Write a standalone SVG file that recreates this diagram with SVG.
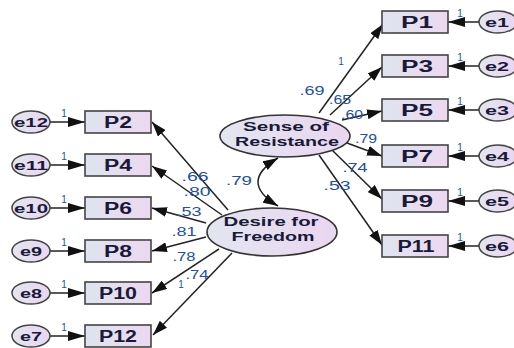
<svg xmlns="http://www.w3.org/2000/svg" width="514" height="348" viewBox="0 0 514 348">
<defs>
<linearGradient id="gb" x1="0" y1="0" x2="1" y2="0">
<stop offset="0" stop-color="#dfe4ef"/>
<stop offset="1" stop-color="#ecd8f0"/>
</linearGradient>
<linearGradient id="ge" x1="0" y1="0" x2="1" y2="0">
<stop offset="0" stop-color="#e2e6f0"/>
<stop offset="1" stop-color="#ead6f0"/>
</linearGradient>
<marker id="ah" markerUnits="userSpaceOnUse" markerWidth="16" markerHeight="10" refX="15" refY="5" orient="auto-start-reverse">
<path d="M0,0 L15,5 L0,10 z" fill="#111"/>
</marker>
<marker id="ae" markerUnits="userSpaceOnUse" markerWidth="18" markerHeight="10" refX="17" refY="5" orient="auto">
<path d="M0,0 L17,5 L0,10 z" fill="#111"/>
</marker>
</defs>
<style>
.box{fill:url(#gb);stroke:#444;stroke-width:1.6}
.err{fill:url(#ge);stroke:#444;stroke-width:1.5}
.lat{fill:url(#ge);stroke:#333;stroke-width:1.6}
.bl{font-family:"Liberation Sans",Arial,sans-serif;font-weight:bold;font-size:16px;fill:#1a1a38;text-anchor:middle}
.el{font-family:"Liberation Sans",Arial,sans-serif;font-weight:bold;font-size:13px;fill:#1a1a38;text-anchor:middle}
.ll{font-family:"Liberation Sans",Arial,sans-serif;font-weight:bold;font-size:13px;fill:#1a1a38;text-anchor:middle}
.num{font-family:"Liberation Sans",Arial,sans-serif;font-size:13px;fill:#23509e;text-anchor:middle}
.one{font-family:"Liberation Sans",Arial,sans-serif;font-size:10px;fill:#23509e;text-anchor:middle}
.c{stroke:#222;stroke-width:1.5;fill:none}
.ce{stroke:#222;stroke-width:1.5;fill:none;marker-end:url(#ae)}
.cp{stroke:#222;stroke-width:1.5;fill:none;marker-end:url(#ah)}
</style>
<g id="connectors">
<line class="cp" x1="319" y1="113" x2="383" y2="24"/>
<line class="cp" x1="330" y1="115" x2="382" y2="67"/>
<line class="cp" x1="342" y1="120" x2="382" y2="111"/>
<line class="cp" x1="347" y1="143" x2="382" y2="156"/>
<line class="cp" x1="332" y1="150" x2="382" y2="199"/>
<line class="cp" x1="319" y1="155" x2="382" y2="245"/>
<line class="cp" x1="228" y1="210" x2="152" y2="122"/>
<line class="cp" x1="222" y1="215" x2="152" y2="166"/>
<line class="cp" x1="206" y1="223" x2="152" y2="208"/>
<line class="cp" x1="206" y1="237" x2="152" y2="251"/>
<line class="cp" x1="219" y1="249" x2="152" y2="293"/>
<line class="cp" x1="232" y1="253" x2="153" y2="335"/>
<path class="c" d="M278,158 Q238,182 278,206" marker-start="url(#ah)" marker-end="url(#ah)"/>
<line class="ce" x1="50" y1="122" x2="85" y2="122"/>
<line class="ce" x1="50" y1="165" x2="85" y2="165"/>
<line class="ce" x1="50" y1="208" x2="85" y2="208"/>
<line class="ce" x1="50" y1="251" x2="85" y2="251"/>
<line class="ce" x1="50" y1="293" x2="85" y2="293"/>
<line class="ce" x1="50" y1="336" x2="85" y2="336"/>
<line class="ce" x1="479" y1="22" x2="448" y2="22"/>
<line class="ce" x1="479" y1="66" x2="448" y2="66"/>
<line class="ce" x1="479" y1="110" x2="448" y2="110"/>
<line class="ce" x1="479" y1="156" x2="448" y2="156"/>
<line class="ce" x1="479" y1="201" x2="448" y2="201"/>
<line class="ce" x1="479" y1="246" x2="448" y2="246"/>
<text class="num" x="312" y="95" textLength="25" lengthAdjust="spacingAndGlyphs">.69</text>
<text class="one" x="341" y="65">1</text>
<text class="num" x="340" y="104" textLength="22" lengthAdjust="spacingAndGlyphs">.65</text>
<text class="num" x="352" y="119" textLength="22" lengthAdjust="spacingAndGlyphs">.60</text>
<text class="num" x="366" y="143" textLength="22" lengthAdjust="spacingAndGlyphs">.79</text>
<text class="num" x="355" y="172" textLength="25" lengthAdjust="spacingAndGlyphs">.74</text>
<text class="num" x="337" y="190" textLength="27" lengthAdjust="spacingAndGlyphs">.53</text>
<text class="num" x="195" y="181" textLength="27" lengthAdjust="spacingAndGlyphs">.66</text>
<text class="num" x="197" y="196" textLength="27" lengthAdjust="spacingAndGlyphs">.80</text>
<text class="num" x="189" y="216" textLength="25" lengthAdjust="spacingAndGlyphs">.53</text>
<text class="num" x="184" y="236" textLength="25" lengthAdjust="spacingAndGlyphs">.81</text>
<text class="num" x="184" y="261" textLength="23" lengthAdjust="spacingAndGlyphs">.78</text>
<text class="num" x="197" y="279" textLength="23" lengthAdjust="spacingAndGlyphs">.74</text>
<text class="one" x="181" y="288">1</text>
<text class="num" x="239" y="185" textLength="26" lengthAdjust="spacingAndGlyphs">.79</text>
<text class="one" x="64" y="117">1</text>
<text class="one" x="64" y="160">1</text>
<text class="one" x="64" y="203">1</text>
<text class="one" x="64" y="246">1</text>
<text class="one" x="64" y="288">1</text>
<text class="one" x="64" y="331">1</text>
<text class="one" x="460" y="17">1</text>
<text class="one" x="460" y="61">1</text>
<text class="one" x="460" y="105">1</text>
<text class="one" x="460" y="151">1</text>
<text class="one" x="460" y="196">1</text>
<text class="one" x="460" y="241">1</text>
</g>
<g id="SenseOfResistance">
<ellipse class="lat" cx="285" cy="136" rx="65" ry="21"/>
<text class="ll" x="286" y="131" textLength="86" lengthAdjust="spacingAndGlyphs">Sense of</text>
<text class="ll" x="287" y="146" textLength="104" lengthAdjust="spacingAndGlyphs">Resistance</text>
</g>
<g id="DesireForFreedom">
<ellipse class="lat" cx="272" cy="232" rx="65" ry="24"/>
<text class="ll" x="271" y="226" textLength="95" lengthAdjust="spacingAndGlyphs">Desire for</text>
<text class="ll" x="273" y="241" textLength="83" lengthAdjust="spacingAndGlyphs">Freedom</text>
</g>
<g id="P2"><rect class="box" x="85" y="111" width="66" height="22"/><text class="bl" x="118" y="128" textLength="28" lengthAdjust="spacingAndGlyphs">P2</text></g>
<g id="P4"><rect class="box" x="85" y="154" width="66" height="22"/><text class="bl" x="118" y="171" textLength="28" lengthAdjust="spacingAndGlyphs">P4</text></g>
<g id="P6"><rect class="box" x="85" y="197" width="66" height="22"/><text class="bl" x="118" y="214" textLength="28" lengthAdjust="spacingAndGlyphs">P6</text></g>
<g id="P8"><rect class="box" x="85" y="240" width="66" height="22"/><text class="bl" x="118" y="257" textLength="28" lengthAdjust="spacingAndGlyphs">P8</text></g>
<g id="P10"><rect class="box" x="85" y="282" width="66" height="22"/><text class="bl" x="118" y="299" textLength="38" lengthAdjust="spacingAndGlyphs">P10</text></g>
<g id="P12"><rect class="box" x="85" y="325" width="66" height="22"/><text class="bl" x="118" y="342" textLength="38" lengthAdjust="spacingAndGlyphs">P12</text></g>
<g id="P1"><rect class="box" x="382" y="11" width="66" height="22"/><text class="bl" x="417" y="28" textLength="32" lengthAdjust="spacingAndGlyphs">P1</text></g>
<g id="P3"><rect class="box" x="382" y="55" width="66" height="22"/><text class="bl" x="417" y="72" textLength="32" lengthAdjust="spacingAndGlyphs">P3</text></g>
<g id="P5"><rect class="box" x="382" y="99" width="66" height="22"/><text class="bl" x="417" y="116" textLength="32" lengthAdjust="spacingAndGlyphs">P5</text></g>
<g id="P7"><rect class="box" x="382" y="145" width="66" height="22"/><text class="bl" x="417" y="162" textLength="32" lengthAdjust="spacingAndGlyphs">P7</text></g>
<g id="P9"><rect class="box" x="382" y="190" width="66" height="22"/><text class="bl" x="417" y="207" textLength="32" lengthAdjust="spacingAndGlyphs">P9</text></g>
<g id="P11"><rect class="box" x="382" y="235" width="66" height="22"/><text class="bl" x="416" y="252" textLength="37" lengthAdjust="spacingAndGlyphs">P11</text></g>
<g id="e12"><ellipse class="err" cx="31" cy="122" rx="19" ry="11"/><text class="el" x="31" y="127" textLength="34" lengthAdjust="spacingAndGlyphs">e12</text></g>
<g id="e11"><ellipse class="err" cx="31" cy="165" rx="19" ry="11"/><text class="el" x="31" y="170" textLength="34" lengthAdjust="spacingAndGlyphs">e11</text></g>
<g id="e10"><ellipse class="err" cx="31" cy="208" rx="19" ry="11"/><text class="el" x="31" y="213" textLength="34" lengthAdjust="spacingAndGlyphs">e10</text></g>
<g id="e9"><ellipse class="err" cx="31" cy="251" rx="19" ry="11"/><text class="el" x="31" y="256" textLength="22" lengthAdjust="spacingAndGlyphs">e9</text></g>
<g id="e8"><ellipse class="err" cx="31" cy="293" rx="19" ry="11"/><text class="el" x="31" y="298" textLength="22" lengthAdjust="spacingAndGlyphs">e8</text></g>
<g id="e7"><ellipse class="err" cx="31" cy="336" rx="19" ry="11"/><text class="el" x="31" y="341" textLength="22" lengthAdjust="spacingAndGlyphs">e7</text></g>
<g id="e1"><ellipse class="err" cx="498" cy="22" rx="19" ry="11"/><text class="el" x="497" y="27" textLength="24" lengthAdjust="spacingAndGlyphs">e1</text></g>
<g id="e2"><ellipse class="err" cx="498" cy="66" rx="19" ry="11"/><text class="el" x="497" y="71" textLength="24" lengthAdjust="spacingAndGlyphs">e2</text></g>
<g id="e3"><ellipse class="err" cx="498" cy="110" rx="19" ry="11"/><text class="el" x="497" y="115" textLength="24" lengthAdjust="spacingAndGlyphs">e3</text></g>
<g id="e4"><ellipse class="err" cx="498" cy="156" rx="19" ry="11"/><text class="el" x="497" y="161" textLength="24" lengthAdjust="spacingAndGlyphs">e4</text></g>
<g id="e5"><ellipse class="err" cx="498" cy="201" rx="19" ry="11"/><text class="el" x="497" y="206" textLength="24" lengthAdjust="spacingAndGlyphs">e5</text></g>
<g id="e6"><ellipse class="err" cx="498" cy="246" rx="19" ry="11"/><text class="el" x="497" y="251" textLength="24" lengthAdjust="spacingAndGlyphs">e6</text></g>
</svg>
